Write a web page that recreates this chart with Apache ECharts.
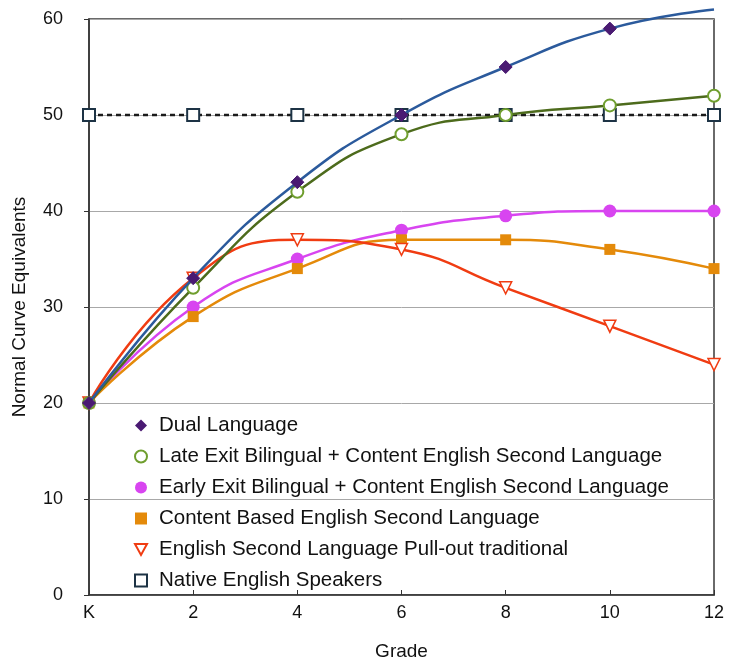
<!DOCTYPE html>
<html>
<head>
<meta charset="utf-8">
<script src="https://cdn.jsdelivr.net/npm/echarts@6/dist/echarts.min.js"></script>
<style>
  html, body { margin: 0; padding: 0; background: #fff; }
  #myChart { width: 729px; height: 661px; }
</style>
</head>
<body>
<div id="myChart"></div>
<script>
// grades on the x axis
const grades = ['K', '2', '4', '6', '8', '10', '12'];

// Normal Curve Equivalents per program
const dualLanguage = [20, 33, 43, 50, 55, 59, 61];
const lateExit = [20, 32, 42, 48, 50, 51, 52];
const earlyExit = [20, 30, 35, 38, 39.5, 40, 40];
const contentBased = [20, 29, 34, 37, 37, 36, 34];
const eslPullOut = [20, 33, 37, 36, 32, 28, 24];
const nativeSpeakers = [50, 50, 50, 50, 50, 50, 50];

const names = [
  'Dual Language',
  'Late Exit Bilingual + Content English Second Language',
  'Early Exit Bilingual + Content English Second Language',
  'Content Based English Second Language',
  'English Second Language Pull-out traditional',
  'Native English Speakers'
];

const font = 'Liberation Sans, Arial, Helvetica, sans-serif';
const downTriangle = 'path://M0,0L10,0L5,9Z';
const icons = ['diamond', 'circle', 'circle', 'rect', downTriangle, 'rect'];

function lineSeries (name, data, opts) {
  return Object.assign({
    name: name,
    type: 'line',
    data: data,
    smooth: true,
    symbolSize: 11,
    z: 3
  }, opts);
}

const myChart = echarts.init(document.getElementById('myChart'));
myChart.setOption({
  backgroundColor: '#fff',
  animation: false,
  grid: {
    left: 89,
    right: 15,
    top: 19,
    bottom: 66,
    outerBoundsMode: 'none',
    containLabel: false,
    show: true,
    borderColor: '#3a3a3a',
    borderWidth: 1.5
  },
  legend: {
    orient: 'vertical',
    left: 129,
    top: 410,
    itemWidth: 12,
    itemHeight: 12,
    itemGap: 10,
    textStyle: { color: '#111', fontSize: 20.5, fontFamily: font, padding: [0, 0, 0, 7] },
    data: names.map(function (n, i) { return { name: n, icon: icons[i] }; })
  },
  xAxis: {
    type: 'category',
    data: grades,
    boundaryGap: false,
    name: 'Grade',
    nameLocation: 'middle',
    nameGap: 47,
    nameTextStyle: { color: '#111', fontSize: 19, fontFamily: font },
    axisLine: { lineStyle: { color: '#333', width: 1.5 } },
    axisTick: { inside: true, length: 5, lineStyle: { color: '#333' } },
    axisLabel: { color: '#111', fontSize: 18, fontFamily: font, margin: 9 },
    splitLine: { show: false }
  },
  yAxis: {
    type: 'value',
    min: 0,
    max: 60,
    interval: 10,
    name: 'Normal Curve Equivalents',
    nameLocation: 'middle',
    nameGap: 60,
    nameTextStyle: { color: '#111', fontSize: 19, fontFamily: font },
    axisLine: { show: true, lineStyle: { color: '#333', width: 1.5 } },
    axisTick: { show: true, length: 5, lineStyle: { color: '#333' } },
    axisLabel: { color: '#111', fontSize: 18, fontFamily: font, margin: 26 },
    splitLine: { lineStyle: { color: '#a8a8a8', width: 1 } }
  },
  series: [
    lineSeries(names[0], dualLanguage, {
      symbol: 'diamond',
      symbolSize: function (v) { return v > 60 ? 0 : 13; },
      clip: false,
      lineStyle: { color: '#2b5a9c', width: 2.5 },
      itemStyle: { color: '#4a1a72', borderColor: '#4a1a72' },
      z: 6
    }),
    lineSeries(names[1], lateExit, {
      symbol: 'circle',
      symbolSize: 12,
      lineStyle: { color: '#4d6b1c', width: 2.5 },
      itemStyle: { color: '#fff', borderColor: '#6f9e2e', borderWidth: 2 },
      z: 5
    }),
    lineSeries(names[2], earlyExit, {
      symbol: 'circle',
      symbolSize: 13,
      lineStyle: { color: '#d845f0', width: 2.5 },
      itemStyle: { color: '#d845f0' }
    }),
    lineSeries(names[3], contentBased, {
      symbol: 'rect',
      symbolSize: 11,
      lineStyle: { color: '#e48a0a', width: 2.5 },
      itemStyle: { color: '#e48a0a' }
    }),
    lineSeries(names[4], eslPullOut, {
      symbol: downTriangle,
      symbolSize: 12,
      lineStyle: { color: '#f03c12', width: 2.5 },
      itemStyle: { color: '#fff', borderColor: '#f03c12', borderWidth: 1.5 }
    }),
    lineSeries(names[5], nativeSpeakers, {
      symbol: 'rect',
      symbolSize: 12,
      smooth: false,
      lineStyle: { color: '#1a1a1a', width: 2.5, type: [5, 4] },
      itemStyle: { color: '#fff', borderColor: '#1d3345', borderWidth: 2 },
      z: 4
    })
  ]
});
</script>
</body>
</html>
